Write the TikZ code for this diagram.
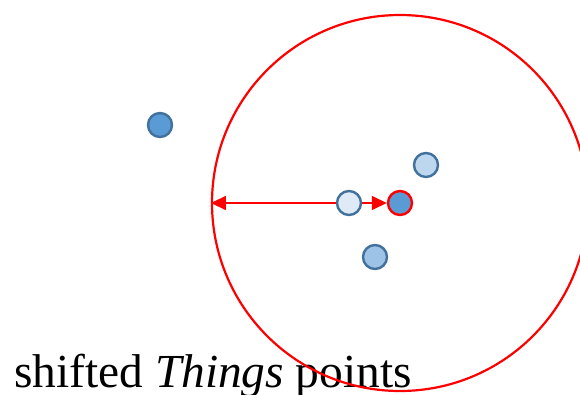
\documentclass[tikz,border=0pt]{standalone}
\usepackage{fontspec}
\setmainfont{Liberation Serif}
\usetikzlibrary{arrows.meta,backgrounds}
\definecolor{ptline}{HTML}{41719C}
\definecolor{ptdark}{HTML}{5B9BD5}
\definecolor{ptpale}{HTML}{DEEBF7}
\definecolor{ptlight}{HTML}{BDD7EE}
\definecolor{ptmid}{HTML}{9DC3E6}
\tikzset{
  pt/.style={circle, draw=ptline, line width=2.4pt, minimum size=24pt, inner sep=0pt},
  redline/.style={draw=red, line width=2.2pt},
  dist/.style={red, line width=1.4pt, {Triangle[length=15pt 0 0,width=14pt 0 0]}-{Triangle[length=15pt 0 0,width=14pt 0 0]}}
}
\begin{document}
\begin{tikzpicture}[x=1pt,y=-1pt]
\clip (0,0) rectangle (580,395);
\useasboundingbox (0,0) rectangle (580,395);
\node[pt, fill=ptdark] (far) at (160,125) {};
\node[pt, fill=ptpale] (old) at (349,203) {};
\node[pt, fill=ptlight] (p1) at (426,165) {};
\node[pt, fill=ptmid] (p2) at (375,257) {};
\node[pt, fill=ptdark, draw=red] (cur) at (400,203) {};
\begin{scope}[on background layer]
\node[anchor=base west, inner sep=0pt, font=\fontsize{47.4}{50}\selectfont] (lbl) at (14,387) {shifted \textit{Things} points};
\node[circle, redline, minimum size=376pt, inner sep=0pt] (range) at (400,203) {};
\draw[dist] (range.west) -- (cur);
\end{scope}
\end{tikzpicture}
\end{document}
